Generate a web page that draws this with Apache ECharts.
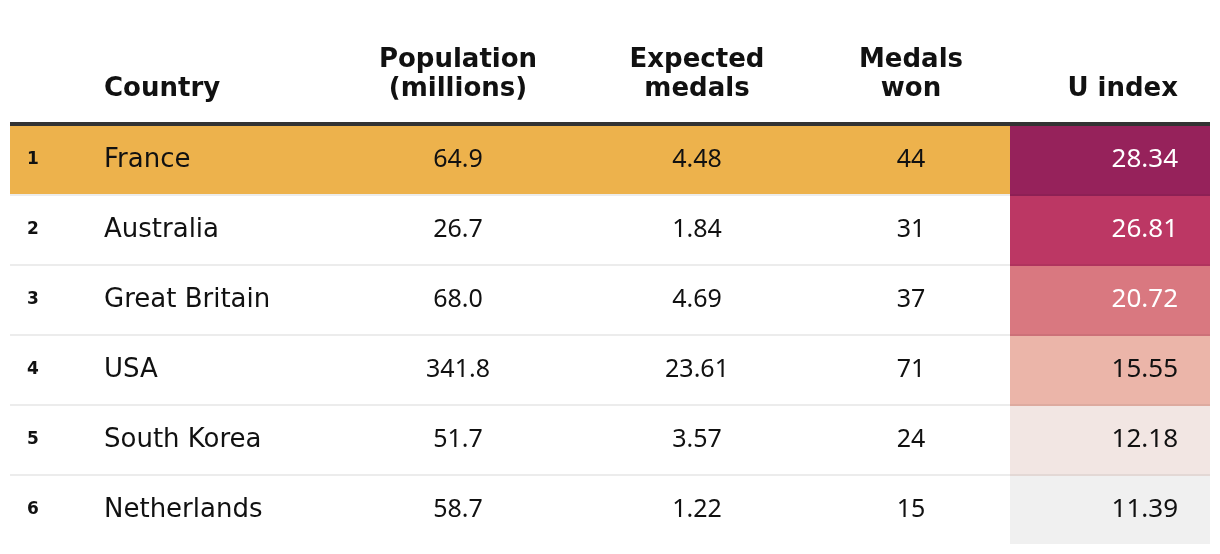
<!DOCTYPE html>
<html><head><meta charset="utf-8">
<script src="https://cdn.jsdelivr.net/npm/echarts@6/dist/echarts.min.js"></script>
<style>html,body{margin:0;padding:0;background:#fff}#c{width:1220px;height:554px}</style>
</head><body><div id="c"></div>
<script>
// ---- data ----
const ranks = [1, 2, 3, 4, 5, 6];
const countries = ['France', 'Australia', 'Great Britain', 'USA', 'South Korea', 'Netherlands'];
const population = [64.9, 26.7, 68.0, 341.8, 51.7, 58.7];
const expectedMedals = [4.48, 1.84, 4.69, 23.61, 3.57, 1.22];
const medalsWon = [44, 31, 37, 71, 24, 15];
const uIndex = [28.34, 26.81, 20.72, 15.55, 12.18, 11.39];
const headerLines = [['Country'], ['Population', '(millions)'], ['Expected', 'medals'], ['Medals', 'won'], ['U index']];

// ---- styles / layout ----
const uColors = ['#96225B', '#BC3764', '#D97880', '#EBB5A9', '#F2E6E3', '#F0F0F0'];
const uTextColors = ['#ffffff', '#ffffff', '#ffffff', '#111111', '#111111', '#111111'];
const highlightColor = '#EDB24C';
const WORD_FONT = '"DejaVu Sans", sans-serif';
const NUM_FONT = '"Noto Sans", sans-serif';
// column anchors in axis units (0..1200 across the table)
const COL = { rank: 17, country: 94, pop: 448, exp: 687, won: 901, uRight: 1168, uLeft: 1000, end: 1200 };

const chart = echarts.init(document.getElementById('c'), null, { renderer: 'canvas' });

function renderItem(params, api) {
  const r = api.value(0);
  const c = api.coord([0, r]);
  const bandH = api.size([0, 1])[1];
  const top = c[1] - bandH / 2;
  const X = v => api.coord([v, r])[0];
  const cellH = bandH - 2;
  const cy = top + cellH / 2;
  const children = [];
  if (r === 0) {
    children.push({ type: 'rect', shape: { x: X(0), y: top, width: X(COL.uLeft) - X(0), height: cellH }, style: { fill: highlightColor } });
  }
  children.push({ type: 'rect', shape: { x: X(COL.uLeft), y: top, width: X(COL.end) - X(COL.uLeft), height: r === countries.length - 1 ? cellH : bandH }, style: { fill: uColors[r] } });
  if (r < countries.length - 1) {
    children.push({ type: 'rect', shape: { x: X(0), y: top + cellH, width: X(COL.uLeft) - X(0), height: 2 }, style: { fill: '#ececec' } });
    children.push({ type: 'rect', shape: { x: X(COL.uLeft), y: top + cellH, width: X(COL.end) - X(COL.uLeft), height: 2 }, style: { fill: 'rgba(0,0,0,0.06)' } });
  }
  const txt = (x, s, align, color, font) => ({
    type: 'text', x: x, y: cy,
    style: { text: s, textAlign: align, textVerticalAlign: 'middle', fill: color, font: font }
  });
  children.push(txt(X(COL.rank), String(ranks[r]), 'left', '#111', 'bold 17px ' + WORD_FONT));
  children.push(txt(X(COL.country), countries[r], 'left', '#111', 'normal 26px ' + WORD_FONT));
  children.push(txt(X(COL.pop), population[r].toFixed(1), 'center', '#111', 'normal 25px ' + NUM_FONT));
  children.push(txt(X(COL.exp), expectedMedals[r].toFixed(2), 'center', '#111', 'normal 25px ' + NUM_FONT));
  children.push(txt(X(COL.won), String(medalsWon[r]), 'center', '#111', 'normal 25px ' + NUM_FONT));
  children.push(txt(X(COL.uRight), uIndex[r].toFixed(2), 'right', uTextColors[r], 'normal 26px ' + NUM_FONT));
  return { type: 'group', children: children };
}

// header graphics
const headerAnchors = [[COL.country, 'left'], [COL.pop, 'center'], [COL.exp, 'center'], [COL.won, 'center'], [COL.uRight, 'right']];
const graphics = [{ type: 'rect', shape: { x: 10, y: 122, width: 1200, height: 4 }, style: { fill: '#333333' } }];
headerLines.forEach((lines, i) => {
  const [ax, align] = headerAnchors[i];
  lines.forEach((ln, j) => {
    const midY = 89 - (lines.length - 1 - j) * 29;
    graphics.push({
      type: 'text', x: 10 + ax, y: midY,
      style: { text: ln, textAlign: align, textVerticalAlign: 'middle', fill: '#111', font: 'bold 26px ' + WORD_FONT }
    });
  });
});

chart.setOption({
  animation: false,
  grid: { left: 10, right: 10, top: 126, height: 420 },
  xAxis: { type: 'value', min: 0, max: 1200, show: false },
  yAxis: { type: 'category', data: countries, inverse: true, show: false },
  series: [{
    type: 'custom',
    renderItem: renderItem,
    data: countries.map((c, i) => [i]),
    encode: { x: -1, y: 0 }
  }],
  graphic: graphics
});
</script>
</body></html>
